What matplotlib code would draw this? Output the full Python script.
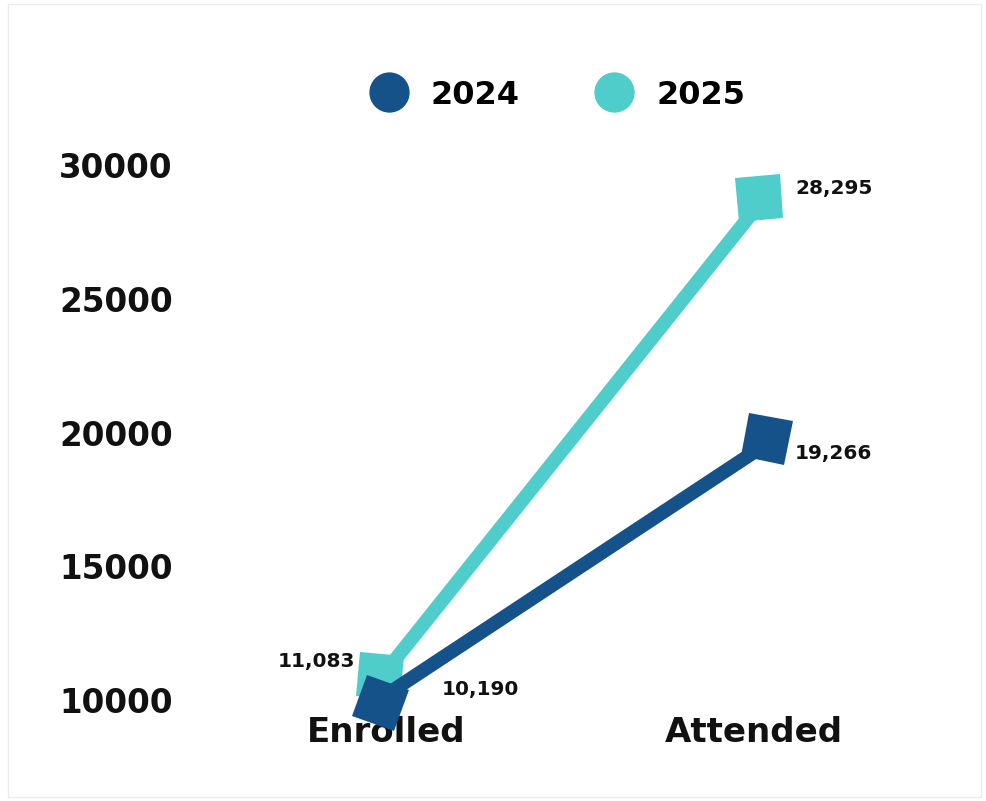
import matplotlib
matplotlib.use("Agg")
import matplotlib.pyplot as plt
from matplotlib.markers import MarkerStyle
from matplotlib.transforms import Affine2D
from matplotlib.lines import Line2D
from matplotlib.patches import Rectangle

# ---- data ----
categories = ["Enrolled", "Attended"]
series_names = ["2024", "2025"]
values_2024 = [10190, 19266]
values_2025 = [11083, 28295]
labels_2024 = ["10,190", "19,266"]
labels_2025 = ["11,083", "28,295"]
y_ticks = [10000, 15000, 20000, 25000, 30000]

# ---- style ----
c2024 = "#15528A"
c2025 = "#4FCDCB"
big_font = "DejaVu Sans"
plt.rcParams["font.family"] = ["DejaVu Sans"]

W, H = 987, 801
fig = plt.figure(figsize=(W / 100, H / 100), dpi=100)
fig.patch.set_facecolor("white")

# axes placement (pixels)
left_px, right_px = 202, 938
top_px, bottom_px = 138.25, 713.4
ax = fig.add_axes([left_px / W, 1 - bottom_px / H,
                   (right_px - left_px) / W, (bottom_px - top_px) / H])
ax.set_xlim(-0.5, 1.5)
ax.set_ylim(9500, 31000)
for s in ax.spines.values():
    s.set_visible(False)
ax.set_facecolor("none")

x = list(range(len(categories)))

# per-point marker styling: (rotation deg, dx, dy) in marker units
mk_2025 = [(-5, -0.13, -0.11), (5, 0.12, 0.29)]
mk_2024 = [(-20, -0.13, -0.18), (-11, 0.29, 0.30)]

def draw_series(vals, color, mks, z):
    ax.plot(x, vals, color=color, lw=10, solid_capstyle="butt", zorder=z, clip_on=False)
    for xi, v, (rot, dx, dy) in zip(x, vals, mks):
        m = MarkerStyle("s", transform=Affine2D().rotate_deg(rot).translate(dx, dy))
        ax.plot([xi], [v], linestyle="none", marker=m, markersize=32,
                color=color, markeredgewidth=0, zorder=z + 0.5, clip_on=False)

draw_series(values_2025, c2025, mk_2025, 4)
draw_series(values_2024, c2024, mk_2024, 5)

# data labels
lab_kw = dict(textcoords="offset points", fontsize=14.5, fontweight="bold",
              color="#111111", va="center", zorder=7, family=big_font)
ax.annotate(labels_2025[0], (x[0], values_2025[0]), xytext=(-22, 7), ha="right", **lab_kw)
ax.annotate(labels_2025[1], (x[1], values_2025[1]), xytext=(30, 16), ha="left", **lab_kw)
ax.annotate(labels_2024[0], (x[0], values_2024[0]), xytext=(40, 4), ha="left", **lab_kw)
ax.annotate(labels_2024[1], (x[1], values_2024[1]), xytext=(29, -1), ha="left", **lab_kw)

# ticks
ax.set_yticks(y_ticks)
ax.set_yticklabels([str(t) for t in y_ticks], fontsize=23.5, fontweight="bold",
                   color="#111111", family=big_font)
ax.set_xticks(x)
ax.set_xticklabels(categories, fontsize=24.5, fontweight="bold", color="#111111",
                   family=big_font)
ax.tick_params(axis="y", length=0, pad=21)
ax.tick_params(axis="x", length=0, pad=2)
for t in ax.get_xticklabels():
    t.set_zorder(1)

# legend
handles = [Line2D([], [], linestyle="none", marker="o", markersize=28, color=c)
           for c in (c2024, c2025)]
leg = fig.legend(handles, series_names, loc="center", ncol=2,
                 bbox_to_anchor=(557.5 / W, 1 - 95 / H), frameon=False,
                 prop={"family": big_font, "weight": "bold", "size": 23},
                 handlelength=1.2, handletextpad=0.72, columnspacing=2.35)

# light border around figure
fig.patches.append(Rectangle((8 / W, 4 / H), (981 - 8) / W, (797 - 4) / H,
                             transform=fig.transFigure, fill=False,
                             edgecolor="#ececec", lw=1))

fig.savefig("out.png", dpi=100)
